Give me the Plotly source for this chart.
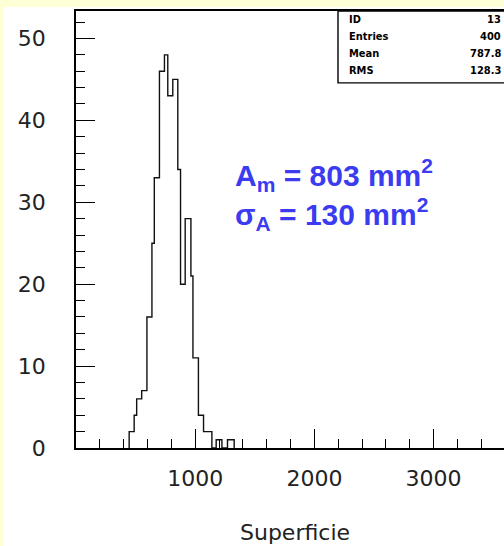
import plotly.graph_objects as go

# ---- data ----
bin_edges = [446, 488, 509, 551, 595, 637, 657, 700, 742, 770, 812, 854, 877,
             916, 964, 981, 1027, 1070, 1105, 1140, 1176, 1224, 1271, 1327]
counts = [2, 4, 6, 7, 16, 25, 33, 46, 48, 43, 45, 34, 20, 28, 21, 11, 4, 2, 2,
          0, 1, 0, 1]
x_tickvals = [1000, 2000, 3000]
y_tickvals = [0, 10, 20, 30, 40, 50]
stats_labels = ["ID", "Entries", "Mean", "RMS"]
stats_values = ["13", "400", "787.8", "128.3"]
x_title = "Superficie"
note_text = "A<sub>m</sub> = 803 mm<sup>2</sup><br>σ<sub>A</sub> = 130 mm<sup>2</sup>"

W, H = 504, 546
L, T, B = 76, 11, 448.5
plot_h = B - T
plot_w = W - L
xmax = plot_w / 0.1192
ymax = plot_h / 8.2


def px_x(p):
    return (p - L) / plot_w


def px_y(p):
    return (B - p) / plot_h


# step outline of the histogram
xs = [bin_edges[0]] + bin_edges
ys = [0] + counts + [0]

fig = go.Figure()
fig.add_trace(go.Scatter(x=xs, y=ys, mode="lines", line_shape="hv",
                         line=dict(color="#111111", width=1.4),
                         hoverinfo="skip", showlegend=False))

tick_font = dict(family="DejaVu Sans, sans-serif", size=22, color="#222222")

fig.update_layout(
    width=W, height=H,
    margin=dict(l=L, r=0, t=T, b=H - B, pad=0),
    paper_bgcolor="#FFFFD6",
    plot_bgcolor="white",
    showlegend=False,
    xaxis=dict(range=[0, xmax], showgrid=False, zeroline=False,
               showline=True, linecolor="black", linewidth=1.5, mirror=True,
               ticks="inside", ticklen=19, tickwidth=1.3, tickcolor="black",
               tickvals=x_tickvals, tickfont=tick_font, ticklabelstandoff=10,
               minor=dict(dtick=200, tick0=0, ticks="inside", ticklen=9,
                          tickwidth=1.3, tickcolor="black", showgrid=False)),
    yaxis=dict(range=[0, ymax], showgrid=False, zeroline=False,
               showline=True, linecolor="black", linewidth=1.5, mirror=False,
               ticks="inside", ticklen=19, tickwidth=1.3, tickcolor="black",
               tickvals=y_tickvals, tickfont=tick_font, ticklabelstandoff=24,
               minor=dict(dtick=2, tick0=0, ticks="inside", ticklen=9,
                          tickwidth=1.3, tickcolor="black", showgrid=False)),
)

# white panel with a thin yellow border on the left and top
fig.add_shape(type="rect", xref="paper", yref="paper", layer="below",
              x0=px_x(4), x1=1.2, y0=-0.4, y1=px_y(7),
              fillcolor="white", line=dict(width=0))

# stats box (cut at the right edge)
fig.add_shape(type="rect", xref="paper", yref="paper",
              x0=px_x(338), x1=1.2, y0=px_y(83), y1=1.0,
              fillcolor="white", line=dict(color="black", width=1.4))

stat_font = dict(family="DejaVu Sans Condensed, Liberation Sans Narrow, sans-serif",
                 size=11, color="black", weight="bold")
row_y = [20, 37, 54, 71]
for lab, val, yy in zip(stats_labels, stats_values, row_y):
    fig.add_annotation(x=px_x(347), y=px_y(yy), xref="paper", yref="paper",
                       text=lab, showarrow=False, xanchor="left",
                       yanchor="middle", font=stat_font)
    fig.add_annotation(x=px_x(503), y=px_y(yy), xref="paper", yref="paper",
                       text=val, showarrow=False, xanchor="right",
                       yanchor="middle", font=stat_font)

# axis title
fig.add_annotation(x=px_x(294.5), y=px_y(533), xref="paper", yref="paper",
                   text=x_title, showarrow=False, xanchor="center",
                   yanchor="middle",
                   font=dict(family="DejaVu Sans, sans-serif", size=22,
                             color="#222222"))

# blue note
fig.add_annotation(x=px_x(233), y=px_y(152), xref="paper", yref="paper",
                   text="<b>" + note_text + "</b>", showarrow=False,
                   xanchor="left", yanchor="top", align="left",
                   font=dict(family="Liberation Sans, Arial, sans-serif",
                             size=30, color="#3B3BF2"))

fig.write_html("out.html", config={"displayModeBar": False},
               post_script="document.body.style.margin='0';"
                           "document.body.style.overflow='hidden';")
